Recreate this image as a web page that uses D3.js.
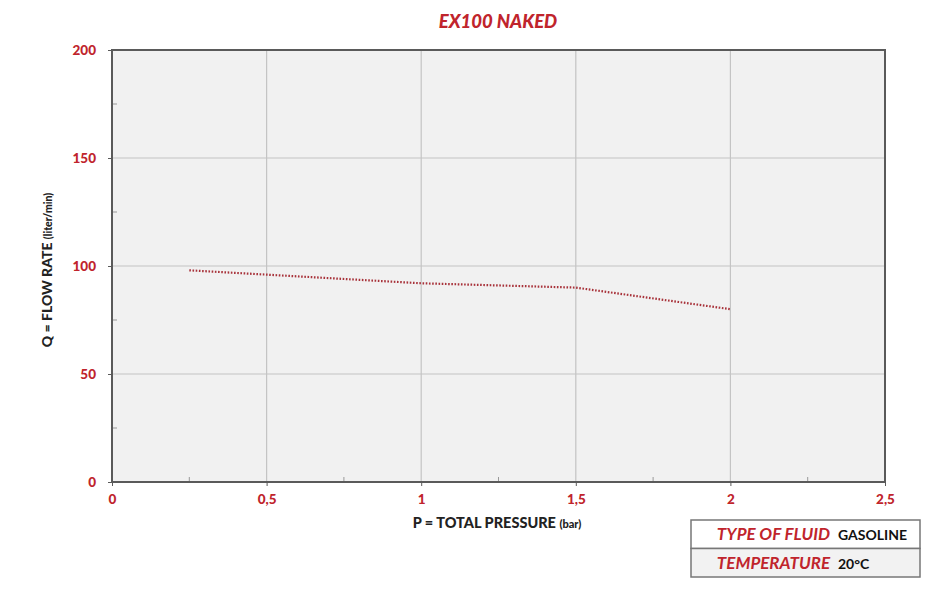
<!DOCTYPE html>
<html>
<head>
<meta charset="utf-8">
<script src="https://cdn.jsdelivr.net/npm/d3@7"></script>
<style>
  body { margin: 0; background: #fff; }
  text { font-family: "Lato", "Open Sans", sans-serif; }
</style>
</head>
<body>
<div id="chart"></div>
<script>
// pressure (bar) vs flow (liter/min)
var pressure = [0.25, 0.5, 1, 1.5, 2];
var flow = [98, 96, 92, 90, 80];
var xTicks = [0, 0.5, 1, 1.5, 2, 2.5];
var yTicks = [0, 50, 100, 150, 200];
var infoLabels = ["TYPE OF FLUID", "TEMPERATURE"];
var infoValues = ["GASOLINE", "20°C"];

var W = 930, H = 591;
var margin = {top: 50, right: 45, bottom: 109, left: 112};
var width = 885 - margin.left, height = 482 - margin.top;
var red = "#c0242c";

var svg = d3.select("#chart").append("svg")
    .attr("width", W).attr("height", H);

svg.append("text")
    .attr("x", 498).attr("y", 28)
    .attr("text-anchor", "middle")
    .style("font-size", "18.5px").style("font-weight", "900").style("font-style", "italic")
    .attr("fill", red)
    .text("EX100 NAKED");

var g = svg.append("g").attr("transform", "translate(" + margin.left + "," + margin.top + ")");

var x = d3.scaleLinear().domain([0, 2.5]).range([0, width]);
var y = d3.scaleLinear().domain([0, 200]).range([height, 0]);

g.append("rect").attr("width", width).attr("height", height).attr("fill", "#f1f1f1");

// grid
g.selectAll(".vgrid").data(xTicks.slice(1, -1)).enter().append("line")
    .attr("x1", function(d) { return x(d); }).attr("x2", function(d) { return x(d); })
    .attr("y1", 0).attr("y2", height)
    .attr("stroke", "#c4c4c4").attr("stroke-width", 1.2);
g.selectAll(".hgrid").data(yTicks.slice(1, -1)).enter().append("line")
    .attr("y1", function(d) { return y(d); }).attr("y2", function(d) { return y(d); })
    .attr("x1", 0).attr("x2", width)
    .attr("stroke", "#c4c4c4").attr("stroke-width", 1.2);

// minor ticks
g.selectAll(".ymin").data(d3.range(25, 200, 50)).enter().append("line")
    .attr("y1", function(d) { return y(d); }).attr("y2", function(d) { return y(d); })
    .attr("x1", 0).attr("x2", 5).attr("stroke", "#999");
g.selectAll(".xmin").data(d3.range(0.25, 2.5, 0.5)).enter().append("line")
    .attr("x1", function(d) { return x(d); }).attr("x2", function(d) { return x(d); })
    .attr("y1", height).attr("y2", height - 5).attr("stroke", "#999");

// frame
g.append("rect").attr("width", width).attr("height", height)
    .attr("fill", "none").attr("stroke", "#5a5a5a").attr("stroke-width", 2);

var xAxis = g.append("g").attr("transform", "translate(0," + height + ")")
    .call(d3.axisBottom(x).tickValues(xTicks).tickSize(4).tickPadding(8)
        .tickFormat(function(d) { return String(d).replace(".", ","); }));
var yAxis = g.append("g")
    .call(d3.axisLeft(y).tickValues(yTicks).tickSize(4).tickPadding(12));
[xAxis, yAxis].forEach(function(a) {
    a.select(".domain").remove();
    a.selectAll("line").attr("stroke", "#5a5a5a");
    a.selectAll("text").attr("fill", red)
        .style("font-size", "13.5px").style("font-weight", "900");
});

// the series
var line = d3.line().x(function(d) { return x(d[0]); }).y(function(d) { return y(d[1]); });
g.append("path")
    .datum(d3.zip(pressure, flow))
    .attr("d", line)
    .attr("fill", "none").attr("stroke", "#a8323a").attr("stroke-width", 2.2)
    .attr("stroke-dasharray", "1.6,1.6");

// axis titles
svg.append("text")
    .attr("x", 497).attr("y", 528)
    .attr("text-anchor", "middle")
    .style("font-size", "14.5px").style("font-weight", "900")
    .attr("fill", "#222")
    .html("P = TOTAL PRESSURE <tspan style='font-size:11px'>(bar)</tspan>");
svg.append("text")
    .attr("transform", "translate(52,270) rotate(-90)")
    .attr("text-anchor", "middle")
    .style("font-size", "14px").style("font-weight", "900")
    .attr("fill", "#222")
    .html("Q = FLOW RATE <tspan style='font-size:10.5px'>(liter/min)</tspan>");

// info box
var box = svg.append("g").attr("transform", "translate(691,520)");
var rowH = 28.5;
box.selectAll(".row").data(infoLabels).enter().append("rect")
    .attr("y", function(d, i) { return i * rowH; })
    .attr("width", 229).attr("height", rowH)
    .attr("fill", function(d, i) { return i ? "#f2f2f2" : "#fff"; })
    .attr("stroke", "#777").attr("stroke-width", 1.5);
box.selectAll(".lab").data(infoLabels).enter().append("text")
    .attr("x", 139).attr("y", function(d, i) { return i * rowH + 20; })
    .attr("text-anchor", "end")
    .attr("fill", red)
    .style("font-size", "17px").style("font-style", "italic").style("font-weight", "700")
    .text(function(d) { return d; });
box.selectAll(".val").data(infoValues).enter().append("text")
    .attr("x", 147).attr("y", function(d, i) { return i * rowH + 20; })
    .attr("fill", "#111")
    .style("font-size", "14px").style("font-weight", "700")
    .text(function(d) { return d; });
</script>
</body>
</html>
